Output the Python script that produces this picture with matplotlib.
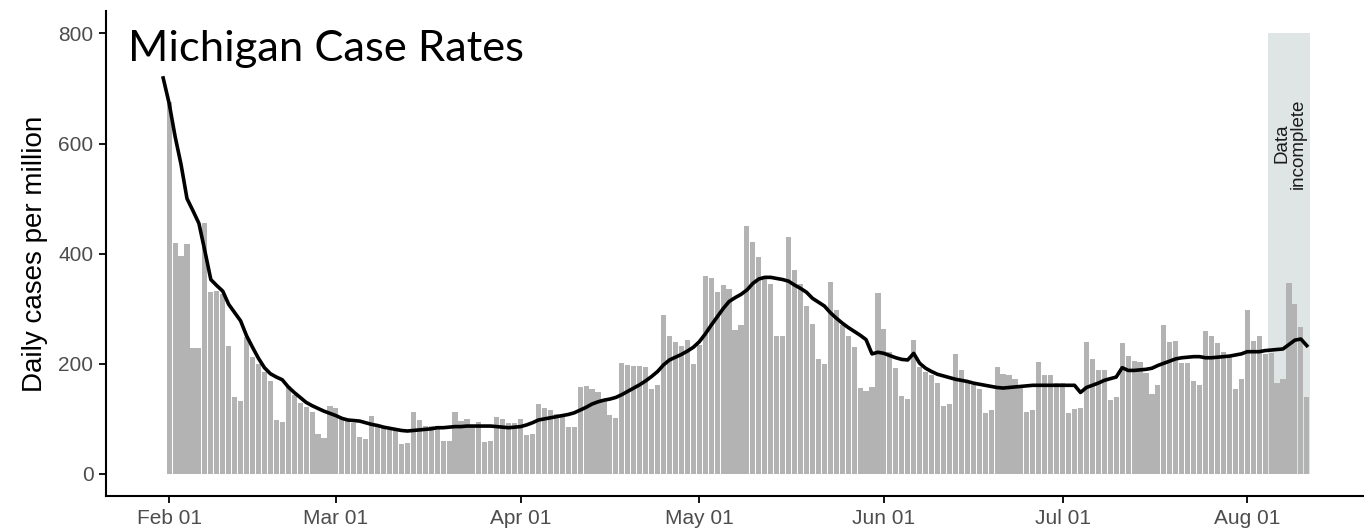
import matplotlib
matplotlib.use("Agg")
import matplotlib.pyplot as plt
import matplotlib.dates as mdates
import pandas as pd

# daily cases per million, Feb 01 .. Aug 11 2022
cases = [676, 419, 396, 417, 229, 228, 456, 330, 333, 327,
         233, 139, 133, 248, 212, 200, 186, 168, 98, 95,
         160, 143, 129, 121, 113, 72, 66, 124, 119, 103,
         97, 92, 68, 63, 106, 86, 83, 79, 78, 55,
         56, 112, 98, 87, 88, 88, 60, 60, 113, 97,
         99, 86, 95, 58, 59, 103, 100, 93, 92, 99,
         70, 72, 127, 119, 117, 109, 109, 86, 86, 158,
         160, 154, 148, 133, 107, 102, 201, 197, 196, 196,
         194, 154, 162, 288, 250, 240, 233, 244, 200, 234,
         359, 356, 330, 344, 335, 262, 271, 451, 421, 394,
         355, 345, 251, 251, 430, 370, 345, 305, 273, 208,
         199, 349, 297, 270, 251, 231, 157, 151, 158, 328,
         264, 221, 192, 142, 137, 244, 195, 185, 180, 165,
         124, 127, 218, 189, 169, 162, 154, 110, 116, 194,
         182, 180, 172, 157, 112, 116, 203, 180, 179, 165,
         165, 110, 118, 119, 239, 209, 189, 189, 135, 139,
         238, 215, 206, 203, 183, 145, 161, 271, 240, 242,
         202, 202, 168, 161, 259, 251, 238, 222, 212, 155,
         172, 297, 242, 251, 218, 220, 166, 172, 347, 308,
         266, 140]

# 7 day average line, Jan 31 .. Aug 11
avg = [719, 673, 613, 562, 500, 478, 455, 405, 353, 342,
       332, 308, 293, 278, 251, 230, 210, 193, 182, 176,
       171, 158, 148, 139, 130, 124, 119, 114, 110, 106,
       101, 98, 97, 96, 93, 90, 88, 85, 83, 81,
       79, 78, 79, 80, 81, 82, 84, 84, 85, 86,
       86, 87, 87, 87, 87, 87, 86, 85, 84, 85,
       86, 89, 93, 98, 100, 102, 104, 106, 108, 111,
       116, 121, 127, 131, 134, 136, 139, 144, 150, 156,
       162, 169, 177, 186, 198, 207, 212, 217, 223, 230,
       240, 254, 270, 285, 300, 313, 320, 326, 334, 346,
       354, 357, 357, 355, 353, 350, 343, 337, 330, 319,
       312, 305, 293, 283, 274, 266, 259, 252, 244, 218,
       221, 219, 215, 211, 208, 207, 219, 201, 192, 186,
       181, 178, 175, 172, 170, 168, 165, 163, 161, 159,
       157, 156, 157, 158, 159, 160, 161, 161, 161, 161,
       161, 161, 161, 161, 148, 157, 161, 165, 170, 173,
       176, 193, 188, 188, 189, 190, 192, 197, 201, 205,
       209, 211, 212, 213, 213, 211, 211, 212, 213, 214,
       216, 218, 222, 222, 222, 224, 225, 226, 227, 235,
       243, 245, 233]

incomplete_from = "2022-08-05"
incomplete_to = "2022-08-11"
y_ticks = [0, 200, 400, 600, 800]

days = pd.date_range("2022-02-01", periods=len(cases), freq="D")
avg_days = pd.date_range("2022-01-31", periods=len(avg), freq="D")

plt.rcParams["font.family"] = ["Liberation Sans", "DejaVu Sans"]

fig = plt.figure(figsize=(13.64, 5.31), dpi=100)
ax = fig.add_axes([0.0777, 0.0659, 0.9223, 0.9128])

# grey band for the last week (incomplete reporting)
half = pd.Timedelta(hours=12)
ax.fill_between([pd.Timestamp(incomplete_from) - half, pd.Timestamp(incomplete_to) + half],
                0, 800, color="#dfe4e4", lw=0, zorder=0)
ax.text(pd.Timestamp("2022-08-08") + pd.Timedelta(hours=5), 600, "Data\nincomplete",
        rotation=90, ha="center", va="center", fontsize=13.5, color="#1a1a1a",
        linespacing=0.95)

ax.bar(days, cases, width=0.86, color="#b3b3b3", lw=0, zorder=1)
ax.plot(avg_days, avg, color="black", lw=2.6, zorder=3, solid_joinstyle="round")

start = pd.Timestamp("2022-02-01")
ax.set_xlim(start - pd.Timedelta(days=10.6), start + pd.Timedelta(days=200.6))
ax.set_ylim(-40, 840)

ax.set_yticks(y_ticks)
ax.xaxis.set_major_locator(mdates.MonthLocator())
ax.xaxis.set_major_formatter(mdates.DateFormatter("%b %d"))
ax.tick_params(axis="both", colors="black", labelcolor="#4d4d4d", labelsize=15,
               length=5, width=1.3, pad=4)
ax.set_ylabel("Daily cases per million", fontsize=20)
ax.yaxis.set_label_coords(-0.046, 0.5)

for s in ["top", "right"]:
    ax.spines[s].set_visible(False)
for s in ["left", "bottom"]:
    ax.spines[s].set_linewidth(1.5)

fig.text(0.0935, 0.885, "Michigan Case Rates", fontsize=31.3,
         family=["Lato", "DejaVu Sans"], ha="left", va="baseline")

fig.savefig("out.png", dpi=100)
